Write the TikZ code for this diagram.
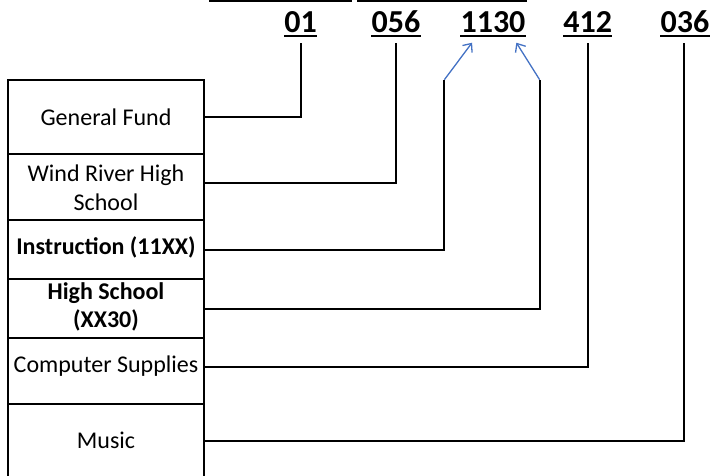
\documentclass[tikz,border=0pt]{standalone}
\usepackage{fontspec}
\setmainfont{Carlito}
\usetikzlibrary{arrows.meta,calc}
\definecolor{ptrblue}{RGB}{68,114,196}
\tikzset{
  cell/.style={draw, line width=2pt, minimum width=196.5pt, inner sep=0pt},
  lbl/.style={inner sep=0pt, align=center, font=\fontsize{24}{28.5}\selectfont},
  num/.style={inner sep=0pt, anchor=base, font=\fontsize{32}{36}\selectfont\bfseries},
  link/.style={line width=2pt},
  ptr/.style={ptrblue, line width=1.3pt, -{Straight Barb[length=7pt,width=12pt]}}
}
\begin{document}
\begin{tikzpicture}[x=1pt, y=-1pt]
  \useasboundingbox (0,0) rectangle (711,475);
  % clipped underlines at the top
  \draw[line width=2.5pt] (209.3,1) -- (351.7,1);
  \draw[line width=2.5pt] (357.3,1) -- (526.7,1);
  % account number parts
  \node[num] (n01)   at (300.5,32.7) {01};
  \node[num] (n056)  at (396,32.7)   {056};
  \node[num] (n1130) at (493,32.7)   {1130};
  \node[num] (n412)  at (587.7,32.7) {412};
  \node[num] (n036)  at (685,32.7)   {036};
  \foreach \n in {n01,n056,n1130,n412,n036}
    \draw[line width=2.5pt] ($(\n.base west)+(0,3.5)$) -- ($(\n.base east)+(0,3.5)$);
  % boxes on the left
  \node[cell, minimum height=73.7pt] (gf) at (106,116.85) {};
  \node[cell, minimum height=66.3pt] (wr) at (106,186.85) {};
  \node[cell, minimum height=59pt]   (in) at (106,249.5)  {};
  \node[cell, minimum height=59pt]   (hs) at (106,308.5)  {};
  \node[cell, minimum height=66pt]   (cs) at (106,371)    {};
  \node[cell, minimum height=74pt]   (mu) at (106,441)    {};
  \node[lbl] (gftxt) at (106,117)   {General Fund};
  \node[lbl] (wrtxt) at (106,187.5) {Wind River High\\School};
  \node[lbl, font=\fontsize{24}{28.5}\selectfont\bfseries] (intxt) at (106,247) {Instruction (11XX)};
  \node[lbl, font=\fontsize{24}{28.5}\selectfont\bfseries] (hstxt) at (106,307) {High School\\(XX30)};
  \node[lbl] (cstxt) at (106,366)   {Computer Supplies};
  \node[lbl] (mutxt) at (106,440)   {Music};
  % connectors
  \draw[link] (gf.east) -| ($(n01.base)+(0,10)$);
  \draw[link] ([yshift=4pt]wr.east) -| ($(n056.base)+(0,10)$);
  \draw[link] (in.east) -| ($(n1130.base west)+(-16,47)$) coordinate (inbend);
  \draw[link] (hs.east) -| ($(n1130.base east)+(14,47)$) coordinate (hsbend);
  \draw[link] ([yshift=4pt]cs.east) -| ($(n412.base)+(0,10)$);
  \draw[link] (mu.east) -| ($(n036.base)+(-1,10)$);
  \draw[ptr] (inbend) -- ($(n1130.base west)+(11.7,10)$);
  \draw[ptr] (hsbend) -- ($(n1130.base east)+(-9.3,10)$);
\end{tikzpicture}
\end{document}
